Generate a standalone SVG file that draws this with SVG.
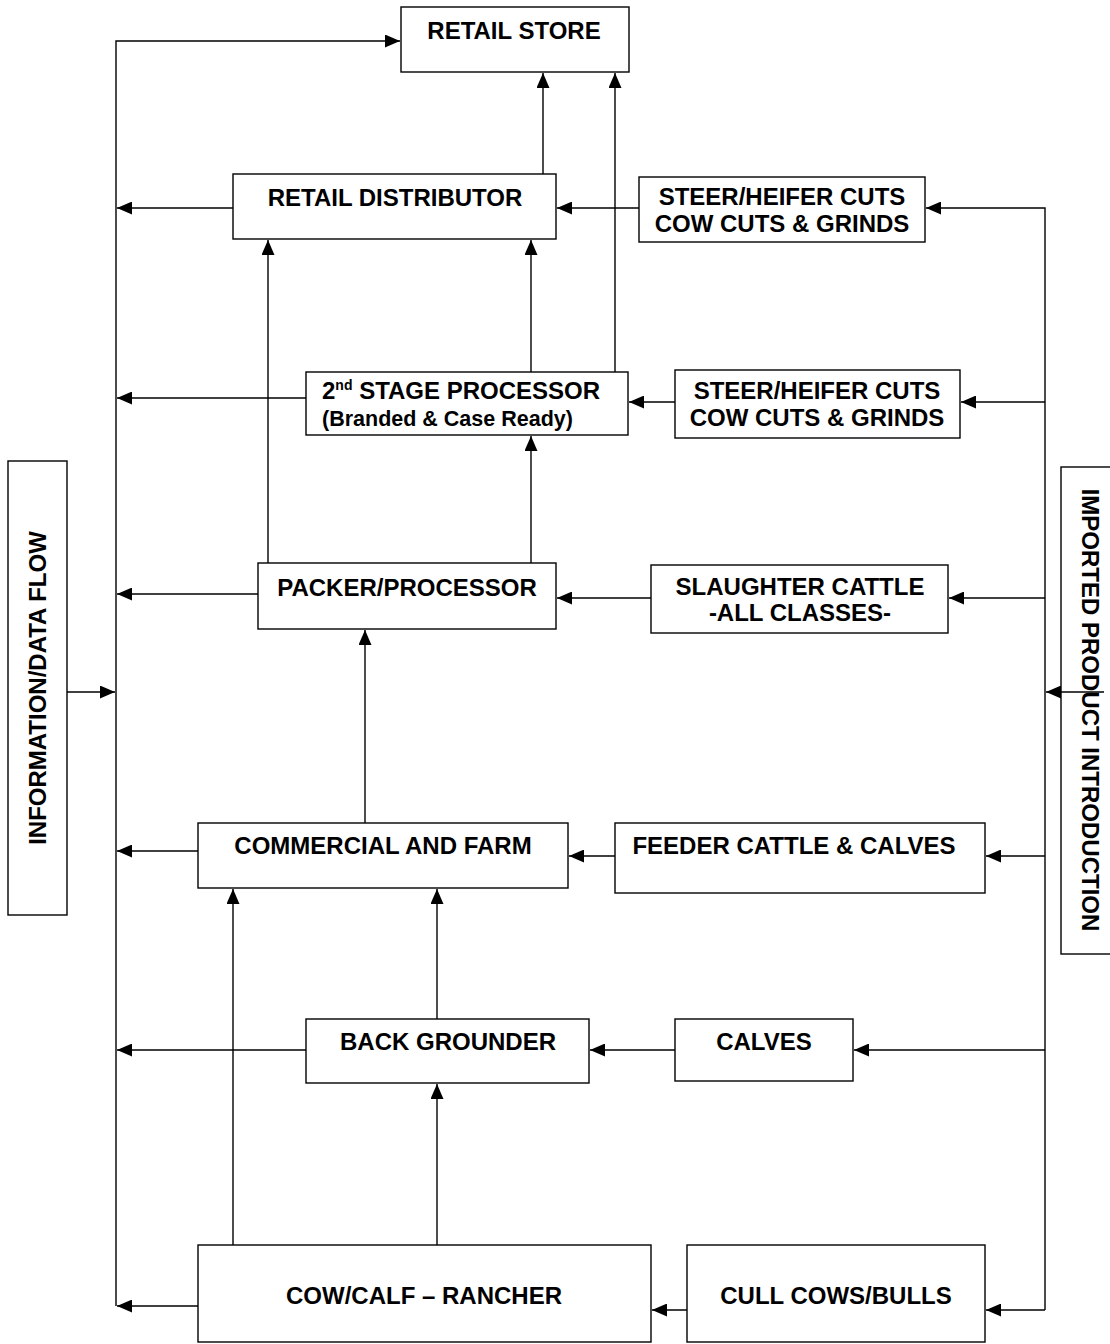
<svg xmlns="http://www.w3.org/2000/svg" width="1110" height="1344" viewBox="0 0 1110 1344">
<style>
.box{fill:#fff;stroke:#000;stroke-width:1.4}
.t{font-family:"Liberation Sans",Arial,sans-serif;font-weight:bold;font-size:24px;fill:#000;text-anchor:middle}
.l{text-anchor:start}
.s{font-size:21.5px}
.c{fill:none;stroke:#000;stroke-width:1.4}
</style>
<defs>
<marker id="a" viewBox="0 0 15 13" refX="15" refY="6.5" markerWidth="15" markerHeight="13" markerUnits="userSpaceOnUse" orient="auto">
<path d="M0,0 L15,6.5 L0,13 Z" fill="#000"/>
</marker>
</defs>
<rect width="1110" height="1344" fill="#fff"/>
<g id="connectors">
<path class="c" d="M116,1306 V41 H400" marker-end="url(#a)"/>
<path class="c" d="M233,208 H117" marker-end="url(#a)"/>
<path class="c" d="M543,174 V73" marker-end="url(#a)"/>
<path class="c" d="M615,372 V73" marker-end="url(#a)"/>
<path class="c" d="M639,208 H557" marker-end="url(#a)"/>
<path class="c" d="M1045,1310 V208 H926" marker-end="url(#a)"/>
<path class="c" d="M306,398 H117" marker-end="url(#a)"/>
<path class="c" d="M531,372 V240" marker-end="url(#a)"/>
<path class="c" d="M675,402 H629" marker-end="url(#a)"/>
<path class="c" d="M1045,402 H961" marker-end="url(#a)"/>
<path class="c" d="M258,594 H117" marker-end="url(#a)"/>
<path class="c" d="M268,563 V240" marker-end="url(#a)"/>
<path class="c" d="M531,563 V436" marker-end="url(#a)"/>
<path class="c" d="M651,598 H557" marker-end="url(#a)"/>
<path class="c" d="M1045,598 H949" marker-end="url(#a)"/>
<path class="c" d="M67,692 H115" marker-end="url(#a)"/>
<path class="c" d="M198,851 H117" marker-end="url(#a)"/>
<path class="c" d="M365,823 V630" marker-end="url(#a)"/>
<path class="c" d="M615,856 H569" marker-end="url(#a)"/>
<path class="c" d="M1045,856 H986" marker-end="url(#a)"/>
<path class="c" d="M306,1050 H117" marker-end="url(#a)"/>
<path class="c" d="M437,1019 V889" marker-end="url(#a)"/>
<path class="c" d="M675,1050 H590" marker-end="url(#a)"/>
<path class="c" d="M1045,1050 H854" marker-end="url(#a)"/>
<path class="c" d="M198,1306 H117" marker-end="url(#a)"/>
<path class="c" d="M233,1245 V889" marker-end="url(#a)"/>
<path class="c" d="M437,1245 V1084" marker-end="url(#a)"/>
<path class="c" d="M687,1310 H652" marker-end="url(#a)"/>
<path class="c" d="M1045,1310 H986" marker-end="url(#a)"/>
</g>
<g id="retail-store"><rect class="box" x="401" y="7" width="228" height="65"/><text class="t" x="514" y="39">RETAIL STORE</text></g>
<g id="retail-distributor"><rect class="box" x="233" y="174" width="323" height="65"/><text class="t" x="395" y="206">RETAIL DISTRIBUTOR</text></g>
<g id="steer-heifer-1"><rect class="box" x="639" y="177" width="286" height="65"/><text class="t" x="782" y="205">STEER/HEIFER CUTS</text><text class="t" x="782" y="232">COW CUTS &amp; GRINDS</text></g>
<g id="second-stage"><rect class="box" x="306" y="372" width="322" height="63"/><text class="t l" x="322" y="399">2<tspan font-size="14" dy="-9">nd</tspan><tspan dy="9"> STAGE PROCESSOR</tspan></text><text class="t l s" x="322" y="426">(Branded &amp; Case Ready)</text></g>
<g id="steer-heifer-2"><rect class="box" x="675" y="370" width="285" height="68"/><text class="t" x="817" y="399">STEER/HEIFER CUTS</text><text class="t" x="817" y="426">COW CUTS &amp; GRINDS</text></g>
<g id="packer"><rect class="box" x="258" y="563" width="298" height="66"/><text class="t" x="407" y="596">PACKER/PROCESSOR</text></g>
<g id="slaughter"><rect class="box" x="651" y="565" width="297" height="68"/><text class="t" x="800" y="595">SLAUGHTER CATTLE</text><text class="t" x="800" y="621">-ALL CLASSES-</text></g>
<g id="info-flow"><rect class="box" x="8" y="461" width="59" height="454"/><text class="t" transform="translate(46,688) rotate(-90)">INFORMATION/DATA FLOW</text></g>
<g id="imported"><rect class="box" x="1061" y="467" width="52" height="487"/><text class="t" transform="translate(1082,710) rotate(90)">IMPORTED PRODUCT INTRODUCTION</text></g>
<path class="c" d="M1104,692 H1046" marker-end="url(#a)"/>
<g id="commercial"><rect class="box" x="198" y="823" width="370" height="65"/><text class="t" x="383" y="854">COMMERCIAL AND FARM</text></g>
<g id="feeder"><rect class="box" x="615" y="823" width="370" height="70"/><text class="t" x="794" y="854">FEEDER CATTLE &amp; CALVES</text></g>
<g id="back-grounder"><rect class="box" x="306" y="1019" width="283" height="64"/><text class="t" x="448" y="1050">BACK GROUNDER</text></g>
<g id="calves"><rect class="box" x="675" y="1019" width="178" height="62"/><text class="t" x="764" y="1050">CALVES</text></g>
<g id="cow-calf"><rect class="box" x="198" y="1245" width="453" height="97"/><text class="t" x="424" y="1304">COW/CALF – RANCHER</text></g>
<g id="cull"><rect class="box" x="687" y="1245" width="298" height="97"/><text class="t" x="836" y="1304">CULL COWS/BULLS</text></g>
</svg>
